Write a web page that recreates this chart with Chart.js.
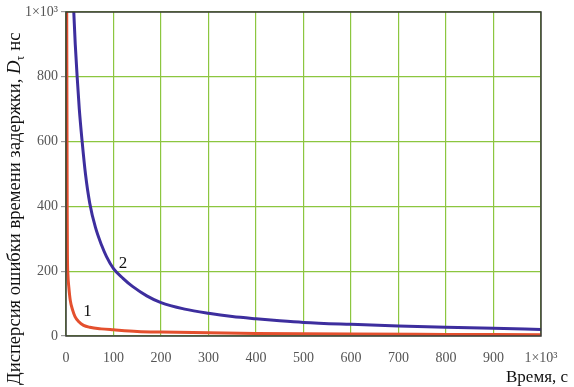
<!DOCTYPE html>
<html>
<head>
<meta charset="utf-8">
<script src="https://cdn.jsdelivr.net/npm/chart.js@4.4.1/dist/chart.umd.min.js"></script>
<style>
  html, body { margin: 0; padding: 0; background: #fff; }
  #wrap { width: 574px; height: 387px; position: relative; }
</style>
</head>
<body>
<div id="wrap"><canvas id="myChart" width="574" height="387"></canvas></div>
<script>
//* DATA *//
let curve2X = [16.4, 19.5, 23.5, 28, 34, 41, 50, 62, 75, 85, 100, 120, 140, 170, 200, 250, 300, 350, 400, 450, 500, 600, 700, 800, 900, 1000];
let curve2Y = [1000, 900, 800, 700, 600, 500, 410, 335, 280, 246, 208, 178, 153, 124, 103, 83, 70, 60, 53, 47, 42, 36, 31, 27, 24, 20];

let curve1X = [1.5, 2, 2.5, 3, 4, 6, 9, 14, 19, 27, 37, 50, 74, 100, 150, 200, 300, 400, 600, 800, 1000];
let curve1Y = [1000, 700, 400, 250, 190, 150, 110, 80, 60, 44, 33, 27, 22, 19, 14, 12, 10, 8, 6, 5, 4];

let xTicks = [0, 100, 200, 300, 400, 500, 600, 700, 800, 900, 1000];
let yTicks = [0, 200, 400, 600, 800, 1000];

let curveLabels = ['1', '2'];
let labelPos = [[45, 75], [120, 225]]; // data coords for curve labels

let xTitle = 'Время, с';
let yTitle = 'Дисперсия ошибки времени задержки, ';

//* HELPERS *//
function toPoints(xs, ys) {
  let pts = [];
  for (let i = 0; i < xs.length; i++) {
    pts.push({ x: xs[i], y: ys[i] });
  }
  return pts;
}

function tickText(v) {
  if (v === 1000) return '1×10³';
  return String(v);
}

let serif = '"Liberation Serif", "DejaVu Serif", serif';

// border round the plot + titles + curve numbers
let extrasPlugin = {
  id: 'extras',
  afterDraw(chart) {
    let c = chart.ctx;
    let a = chart.chartArea;
    c.save();
    c.strokeStyle = '#3a3a3a';
    c.lineWidth = 1.5;
    c.strokeRect(a.left, a.top, a.right - a.left, a.bottom - a.top);

    // curve numbers
    c.fillStyle = '#111';
    c.font = '17px ' + serif;
    c.textAlign = 'center';
    c.textBaseline = 'middle';
    for (let i = 0; i < curveLabels.length; i++) {
      let px = chart.scales.x.getPixelForValue(labelPos[i][0]);
      let py = chart.scales.y.getPixelForValue(labelPos[i][1]);
      c.fillText(curveLabels[i], px, py);
    }

    // x title
    c.font = '17px ' + serif;
    c.textAlign = 'right';
    c.textBaseline = 'alphabetic';
    c.fillText(xTitle, 568, 382);

    // y title, rotated, with italic D and subscript tau
    c.translate(20, 385);
    c.rotate(-Math.PI / 2);
    c.textAlign = 'left';
    let big = '18.6px ' + serif;
    c.font = big;
    let x0 = 0;
    c.fillText(yTitle, x0, 0);
    x0 += c.measureText(yTitle).width;
    c.font = 'italic ' + big;
    c.fillText('D', x0, 0);
    x0 += c.measureText('D').width;
    c.font = '12px ' + serif;
    c.fillText('τ', x0, 4);
    x0 += c.measureText('τ').width + 5;
    c.font = big;
    c.fillText('нс', x0, 0);
    c.restore();
  }
};

let ctx = document.getElementById('myChart');

let chartObj = {
  type: 'scatter',
  data: {
    datasets: [
      {
        label: '2',
        data: toPoints(curve2X, curve2Y),
        showLine: true,
        borderColor: '#3d2e9e',
        borderWidth: 3,
        pointRadius: 0,
        cubicInterpolationMode: 'monotone'
      },
      {
        label: '1',
        data: toPoints(curve1X, curve1Y),
        showLine: true,
        borderColor: '#e4502e',
        borderWidth: 3,
        pointRadius: 0,
        cubicInterpolationMode: 'monotone'
      }
    ]
  },
  options: {
    responsive: false,
    animation: false,
    layout: { padding: { top: 12, right: 33, left: 0, bottom: 0 } },
    plugins: { legend: { display: false }, tooltip: { enabled: false } },
    scales: {
      x: {
        type: 'linear',
        min: 0,
        max: 1000,
        afterBuildTicks(scale) { scale.ticks = xTicks.map(v => ({ value: v })); },
        afterFit(scale) { scale.height = 51; },
        grid: { color: '#8cc63f', lineWidth: 1.2, drawTicks: false },
        border: { display: false },
        ticks: {
          padding: 14,
          color: '#555',
          font: { family: serif, size: 14 },
          maxRotation: 0,
          autoSkip: false,
          callback: tickText
        }
      },
      y: {
        type: 'linear',
        min: 0,
        max: 1000,
        afterBuildTicks(scale) { scale.ticks = yTicks.map(v => ({ value: v })); },
        afterFit(scale) { scale.width = 66; },
        grid: { color: '#8cc63f', lineWidth: 1.2, drawTicks: true, tickLength: 5, tickColor: '#999' },
        border: { display: false },
        ticks: {
          padding: 3,
          color: '#555',
          font: { family: serif, size: 14 },
          autoSkip: false,
          callback: tickText
        }
      }
    }
  },
  plugins: [extrasPlugin]
};

new Chart(ctx, chartObj);
</script>
</body>
</html>
